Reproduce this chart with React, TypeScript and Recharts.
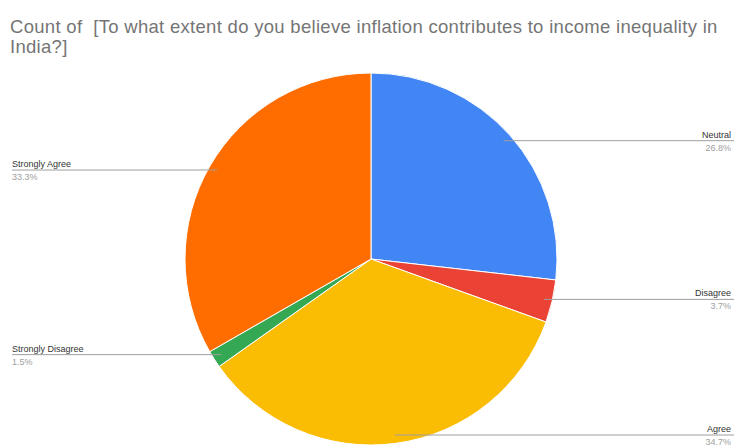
import { PieChart, Pie, Cell } from "recharts";

const categories = ["Neutral", "Disagree", "Agree", "Strongly Disagree", "Strongly Agree"];
const shares = [26.8, 3.7, 34.7, 1.5, 33.3];
const sliceColors = ["#4285F4", "#EA4335", "#FBBC04", "#34A853", "#FF6D01"];

const TITLE =
  "Count of  [To what extent do you believe inflation contributes to income inequality in India?]";

const data = categories.map((name, i) => ({ name, value: shares[i] }));

const RAD = Math.PI / 180;
const W = 739;
const H = 447;

function renderLabel(props: any) {
  const { cx, cy, midAngle, outerRadius, index } = props;
  const r = outerRadius * 0.955;
  const x0 = cx + r * Math.cos(-midAngle * RAD);
  const y0 = cy + r * Math.sin(-midAngle * RAD);
  const right = x0 > cx;
  const xEnd = right ? 734 : 12;
  const tx = right ? 731 : 12;
  const anchor = right ? "end" : "start";
  return (
    <g key={`lbl-${index}`}>
      <line x1={x0} y1={y0} x2={xEnd} y2={y0} stroke="#9e9e9e" strokeWidth={1} />
      <text x={tx} y={y0 - 3} textAnchor={anchor} fontSize={9} fill="#333" fontFamily="Liberation Sans, Arial, sans-serif">
        {categories[index]}
      </text>
      <text x={tx} y={Math.min(y0 + 10, H - 2)} textAnchor={anchor} fontSize={9} fill="#9e9e9e" fontFamily="Liberation Sans, Arial, sans-serif">
        {shares[index].toFixed(1)}%
      </text>
    </g>
  );
}

export default function App() {
  return (
    <div style={{ position: "absolute", top: 0, left: 0, width: W, height: H, background: "#fff", overflow: "hidden" }}>
      <div
        style={{
          position: "absolute",
          top: 17,
          left: 10,
          width: 728,
          fontFamily: "Liberation Sans, Arial, sans-serif",
          fontSize: 18.5,
          letterSpacing: 0.3,
          lineHeight: "20px",
          color: "#757575",
          whiteSpace: "pre-wrap",
        }}
      >
        {TITLE}
      </div>
      <div style={{ position: "absolute", top: 0, left: 0 }}>
        <PieChart width={W} height={H} margin={{ top: 0, right: 0, bottom: 0, left: 0 }}>
          <Pie
            data={data}
            dataKey="value"
            nameKey="name"
            cx={371}
            cy={259}
            outerRadius={186}
            startAngle={90}
            endAngle={-270}
            stroke="#fff"
            strokeWidth={1}
            label={renderLabel}
            labelLine={false}
            isAnimationActive={false}
          >
            {data.map((d, i) => (
              <Cell key={d.name} fill={sliceColors[i]} />
            ))}
          </Pie>
        </PieChart>
      </div>
    </div>
  );
}
